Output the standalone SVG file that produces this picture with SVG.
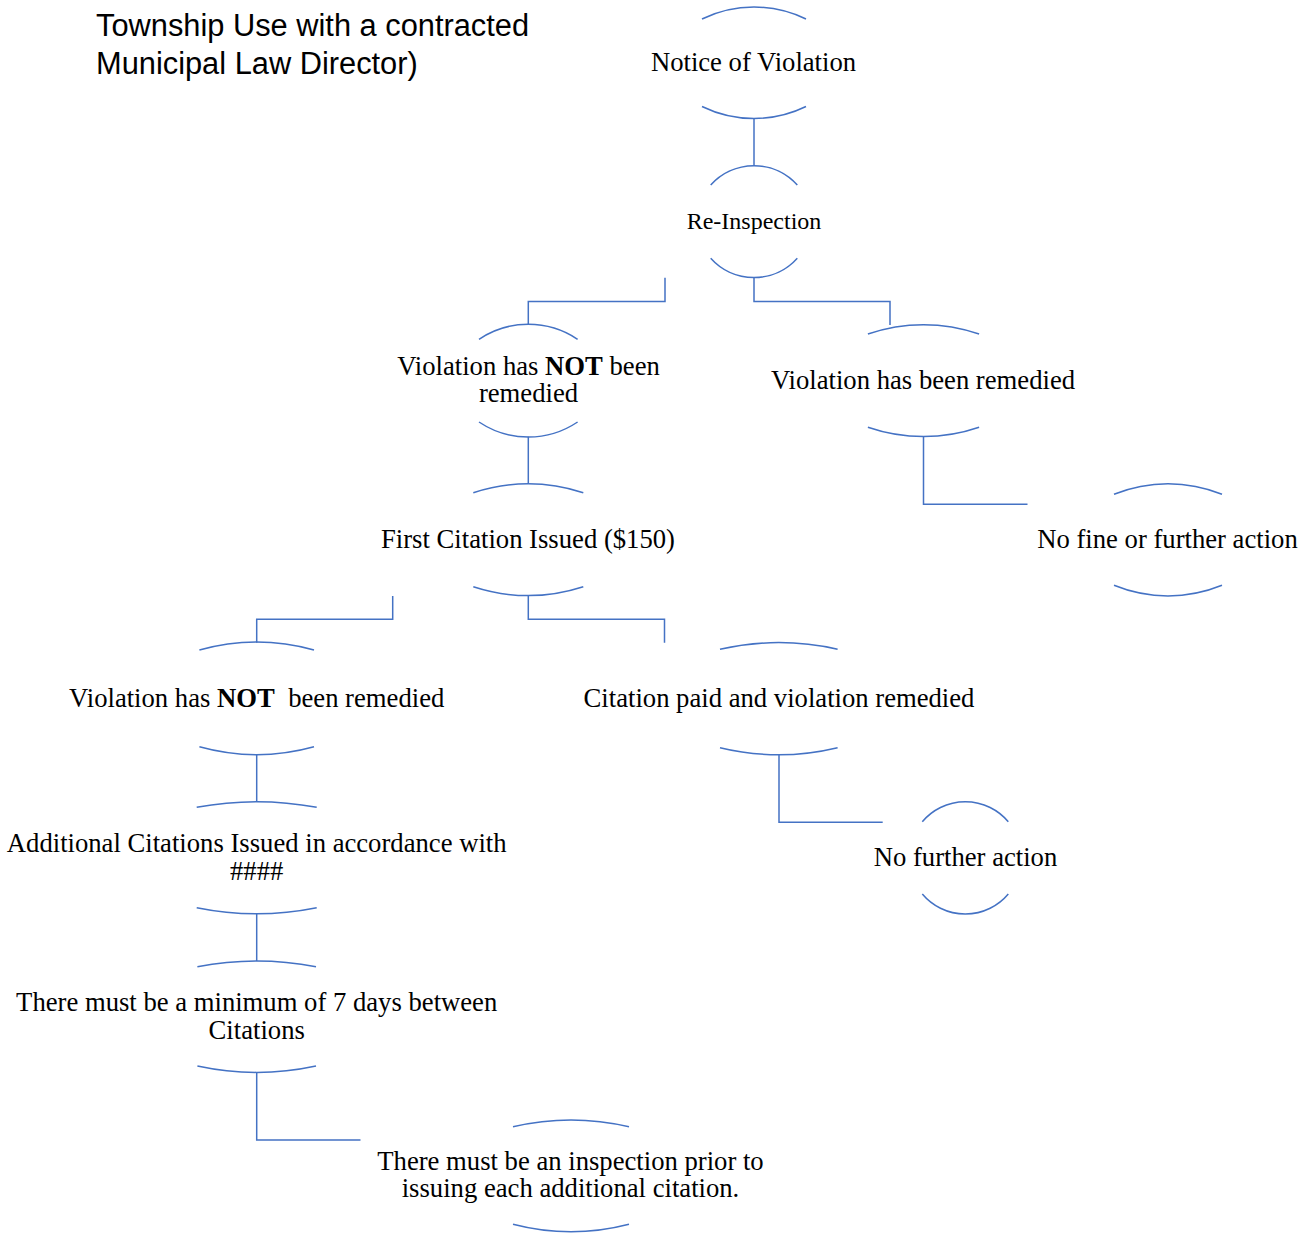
<svg xmlns="http://www.w3.org/2000/svg" width="1310" height="1233" viewBox="0 0 1310 1233">
<style>
.arc{fill:none;stroke:#4472C4;stroke-width:1.5}
.conn{fill:none;stroke:#4472C4;stroke-width:1.5}
.t{font-family:"Liberation Serif","Times New Roman",serif;font-size:26.67px;fill:#000;text-anchor:middle}
.b{font-weight:bold}
.title{font-family:"Liberation Sans",Arial,sans-serif;font-size:30.8px;fill:#000}
</style>
<rect width="1310" height="1233" fill="#fff"/>
<g id="title">
<text class="title" x="96" y="35.5">Township Use with a contracted</text>
<text class="title" x="96" y="73.5">Municipal Law Director)</text>
</g>
<g id="connectors">
<path class="conn" d="M754,118.3 V165.7"/>
<path class="conn" d="M665,277.7 V301.5 H528.3 V324.3"/>
<path class="conn" d="M754,277.7 V301.5 H890 V325"/>
<path class="conn" d="M528.3,436.7 V484"/>
<path class="conn" d="M923.5,436.7 V504.3 H1027.5"/>
<path class="conn" d="M392.7,596 V619.3 H256.7 V642.7"/>
<path class="conn" d="M528.3,595.3 V619.3 H664.5 V642.7"/>
<path class="conn" d="M256.7,755 V801.7"/>
<path class="conn" d="M779,754.7 V822.3 H882.7"/>
<path class="conn" d="M256.7,913.7 V961"/>
<path class="conn" d="M256.7,1072.3 V1140 H360.5"/>
</g>
<g id="node-notice">
<path class="arc" d="M702,19 A118.7 118.7 0 0 1 806,19"/>
<path class="arc" d="M702,106.5 A118.7 118.7 0 0 0 806,106.5"/>
<text class="t" x="753.5" y="71">Notice of Violation</text>
</g>
<g id="node-reinspection">
<path class="arc" d="M710.7,185 A58.2 58.2 0 0 1 797.3,185"/>
<path class="arc" d="M710.7,258.3 A58.2 58.2 0 0 0 797.3,258.3"/>
<text class="t" x="754" y="229" style="font-size:24px">Re-Inspection</text>
</g>
<g id="node-not-remedied-1">
<path class="arc" d="M479,339.3 A88.5 88.5 0 0 1 577.6,339.3"/>
<path class="arc" d="M479,422 A88.5 88.5 0 0 0 577.6,422"/>
<text class="t" x="528.5" y="374.5">Violation has <tspan class="b">NOT</tspan> been</text>
<text class="t" x="528.5" y="402">remedied</text>
</g>
<g id="node-remedied">
<path class="arc" d="M867.9,334 A170.8 170.8 0 0 1 979.1,334"/>
<path class="arc" d="M867.9,427.3 A170.8 170.8 0 0 0 979.1,427.3"/>
<text class="t" x="923" y="389">Violation has been remedied</text>
</g>
<g id="node-no-fine">
<path class="arc" d="M1114,494.3 A142.8 142.8 0 0 1 1222,494.3"/>
<path class="arc" d="M1114,585.3 A142.8 142.8 0 0 0 1222,585.3"/>
<text class="t" x="1167.5" y="548">No fine or further action</text>
</g>
<g id="node-first-citation">
<path class="arc" d="M473.3,492.7 A178.2 178.2 0 0 1 583.3,492.7"/>
<path class="arc" d="M473.3,586.7 A178.2 178.2 0 0 0 583.3,586.7"/>
<text class="t" x="528" y="548">First Citation Issued ($150)</text>
</g>
<g id="node-not-remedied-2">
<path class="arc" d="M199.4,650 A214 214 0 0 1 314,650"/>
<path class="arc" d="M199.4,746.7 A214 214 0 0 0 314,746.7"/>
<text class="t" x="256.7" y="707" xml:space="preserve">Violation has <tspan class="b">NOT</tspan>  been remedied</text>
</g>
<g id="node-citation-paid">
<path class="arc" d="M720,649.3 A265 265 0 0 1 837.6,649.3"/>
<path class="arc" d="M720,747.7 A250 250 0 0 0 837.6,747.7"/>
<text class="t" x="779" y="707">Citation paid and violation remedied</text>
</g>
<g id="node-no-further">
<path class="arc" d="M922.3,821.7 A56.2 56.2 0 0 1 1008.3,821.7"/>
<path class="arc" d="M922.3,894 A56.2 56.2 0 0 0 1008.3,894"/>
<text class="t" x="965.5" y="866">No further action</text>
</g>
<g id="node-additional">
<path class="arc" d="M196.7,807.3 A324 324 0 0 1 316.7,807.3"/>
<path class="arc" d="M196.7,907.7 A303 303 0 0 0 316.7,907.7"/>
<text class="t" x="256.7" y="852">Additional Citations Issued in accordance with</text>
<text class="t" x="256.7" y="879.5">####</text>
</g>
<g id="node-seven-days">
<path class="arc" d="M197.4,966.7 A311 311 0 0 1 316,966.7"/>
<path class="arc" d="M197.4,1066 A282 282 0 0 0 316,1066"/>
<text class="t" x="256.7" y="1011">There must be a minimum of 7 days between</text>
<text class="t" x="256.7" y="1038.5">Citations</text>
</g>
<g id="node-inspection">
<path class="arc" d="M513,1126.7 A254 254 0 0 1 629,1126.7"/>
<path class="arc" d="M513,1224.3 A231 231 0 0 0 629,1224.3"/>
<text class="t" x="570.5" y="1170">There must be an inspection prior to</text>
<text class="t" x="570.5" y="1197">issuing each additional citation.</text>
</g>
</svg>
